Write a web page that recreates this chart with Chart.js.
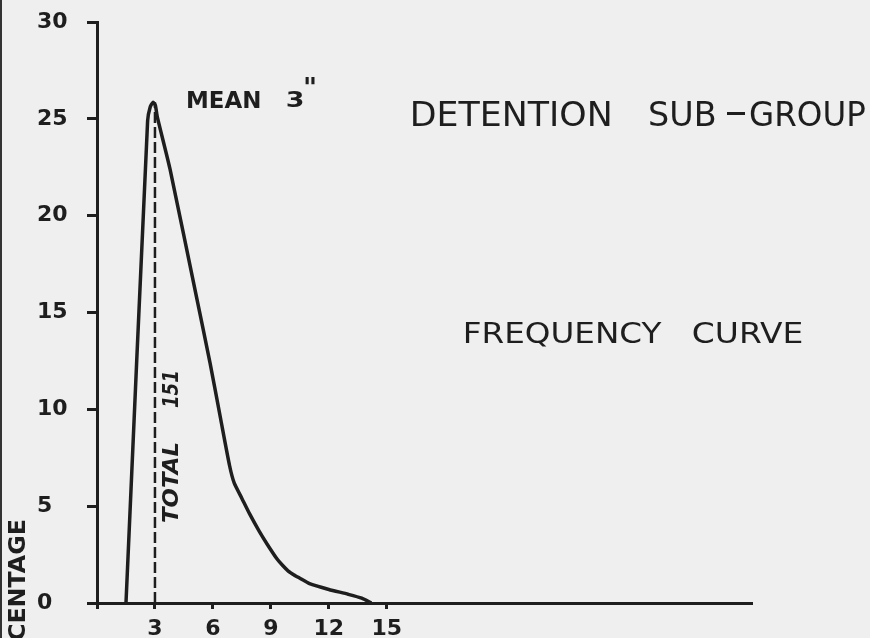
<!DOCTYPE html>
<html>
<head>
<meta charset="utf-8">
<script src="https://cdn.jsdelivr.net/npm/chart.js@4"></script>
<style>
    html, body { margin: 0; padding: 0; background: #efefef; }
    #wrap { width: 870px; height: 638px; position: relative; }
</style>
</head>
<body>
<div id="wrap"><canvas id="curve"></canvas></div>
<script>
// Detention sub-group frequency curve
const curveX = [1.5, 2.62, 2.75, 2.9, 3.02, 3.12, 3.78, 5.17, 5.85, 6.4, 6.86, 7.1, 7.5, 7.9, 8.4, 8.8, 9.3, 9.6, 9.9, 10.2, 10.5, 11.0, 12.0, 13.0, 13.7, 14.2];
const curveY = [0, 24.9, 25.6, 25.85, 25.7, 25.1, 22.4, 15.7, 12.4, 9.5, 7.1, 6.2, 5.4, 4.6, 3.7, 3.05, 2.3, 1.95, 1.65, 1.45, 1.28, 1.0, 0.7, 0.45, 0.25, 0];

// mean marker (dashed line)
const meanX = [3, 3];
const meanY = [0, 25.85];

// axis ticks
const xTicks = [0, 3, 6, 9, 12, 15];
const xLabels = ['', '3', '6', '9', '12', '15'];
const yTicks = [0, 5, 10, 15, 20, 25, 30];

const ink = '#1e1e1e';
const paperColor = '#efefef';

// draws text so its ink spans x0..x1 with a given cap height
const fitText = (ctx, text, x0, x1, top, cap, style) => {
    ctx.save();
    ctx.font = `${style} ${cap / 0.73}px "DejaVu Sans"`;
    const m = ctx.measureText(text);
    const inkW = m.actualBoundingBoxLeft + m.actualBoundingBoxRight;
    ctx.translate(x0, top + cap);
    ctx.scale((x1 - x0) / inkW, 1);
    ctx.textAlign = 'left';
    ctx.textBaseline = 'alphabetic';
    ctx.fillStyle = ink;
    ctx.fillText(text, m.actualBoundingBoxLeft, 0);
    ctx.restore();
}

// same but rotated to read bottom-to-top; xLeft is the cap side
const fitTextUp = (ctx, text, yBottom, yTop, xLeft, cap, style) => {
    ctx.save();
    ctx.translate(xLeft + cap, yBottom);
    ctx.rotate(-Math.PI / 2);
    fitText(ctx, text, 0, yBottom - yTop, -cap, cap, style);
    ctx.restore();
}

const paper = {
    id: 'paper',
    beforeDraw: (chart) => {
        const ctx = chart.ctx;
        ctx.save();
        ctx.fillStyle = paperColor;
        ctx.fillRect(0, 0, chart.width, chart.height);
        // dark scan edge on the left
        ctx.fillStyle = '#333';
        ctx.fillRect(0, 0, 2, chart.height);
        ctx.restore();
    },
    afterDraw: (chart) => {
        const ctx = chart.ctx;
        // titles
        fitText(ctx, 'DETENTION', 413, 610, 102, 24, 'normal');
        fitText(ctx, 'SUB', 650, 715, 102, 24, 'normal');
        ctx.save();
        ctx.fillStyle = ink;
        ctx.fillRect(727, 112, 18, 3);
        ctx.restore();
        fitText(ctx, 'GROUP', 750, 865, 102, 24, 'normal');
        fitText(ctx, 'FREQUENCY', 465, 662, 322, 21, 'normal');
        fitText(ctx, 'CURVE', 693, 802, 322, 21, 'normal');

        // mean label
        fitText(ctx, 'MEAN', 188, 260, 91, 17, 'bold');
        fitText(ctx, '3', 287, 303, 91, 16, 'bold');
        ctx.save();
        ctx.fillStyle = ink;
        ctx.font = 'bold 27px "DejaVu Sans"';
        ctx.textBaseline = 'top';
        ctx.fillText('"', 303, 76);
        ctx.restore();

        // total along the dashed line
        fitTextUp(ctx, 'TOTAL', 522, 443, 162, 16, 'italic bold');
        fitTextUp(ctx, '151', 408, 372, 162, 16, 'italic bold');

        // y axis title, cut by the page edge
        ctx.save();
        const cap = 17;
        ctx.font = `bold ${cap / 0.73}px "DejaVu Sans"`;
        const part = ctx.measureText('CENTAGE');
        const sx = 120 / (part.actualBoundingBoxLeft + part.actualBoundingBoxRight);
        const full = ctx.measureText('PERCENTAGE');
        const len = (full.actualBoundingBoxLeft + full.actualBoundingBoxRight) * sx;
        ctx.restore();
        fitTextUp(ctx, 'PERCENTAGE', 520 + len, 520, 8, cap, 'bold');
    }
};

const tickFont = { family: "'DejaVu Sans'", size: 22, weight: 'bold' };

new Chart(document.getElementById('curve'), {
    type: 'scatter',
    data: {
        datasets: [{
            data: curveX.map((x, i) => ({ x: x, y: curveY[i] })),
            showLine: true,
            borderColor: ink,
            borderWidth: 3.5,
            pointRadius: 0,
            tension: 0.2
        }, {
            data: meanX.map((x, i) => ({ x: x, y: meanY[i] })),
            showLine: true,
            borderColor: ink,
            borderWidth: 2.5,
            borderDash: [11, 4],
            pointRadius: 0
        }]
    },
    options: {
        responsive: true,
        maintainAspectRatio: false,
        animation: false,
        layout: { padding: { left: 37, top: 22, right: 118, bottom: 0 } },
        plugins: {
            legend: { display: false },
            tooltip: { enabled: false }
        },
        scales: {
            x: {
                type: 'linear',
                min: 0,
                max: 33.9,
                afterBuildTicks: (s) => { s.ticks = xTicks.map(v => ({ value: v })); },
                afterFit: (s) => { s.height = 35; },
                grid: { drawOnChartArea: false, tickLength: 6, tickWidth: 3, tickColor: ink },
                border: { color: ink, width: 3 },
                ticks: {
                    color: ink,
                    font: tickFont,
                    padding: 7,
                    maxRotation: 0,
                    autoSkip: false,
                    callback: (v) => xLabels[xTicks.indexOf(v)]
                }
            },
            y: {
                min: 0,
                max: 30,
                afterBuildTicks: (s) => { s.ticks = yTicks.map(v => ({ value: v })); },
                afterFit: (s) => { s.width = 60; },
                grid: { drawOnChartArea: false, tickLength: 10, tickWidth: 3, tickColor: ink },
                border: { color: ink, width: 3 },
                ticks: {
                    color: ink,
                    font: tickFont,
                    crossAlign: 'far',
                    autoSkip: false
                }
            }
        }
    },
    plugins: [paper]
});
</script>
</body>
</html>
